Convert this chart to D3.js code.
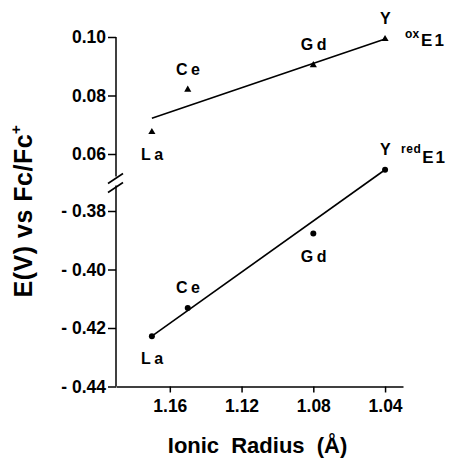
<!DOCTYPE html>
<html>
<head>
<meta charset="utf-8">
<script src="https://cdn.jsdelivr.net/npm/d3@7"></script>
<style>
  body { margin: 0; background: #fff; }
  text { font-family: "Liberation Sans", Arial, Helvetica, sans-serif; font-weight: bold; fill: #000; }
</style>
</head>
<body>
<div id="chart"></div>
<script>
// values
const elements = ["La", "Ce", "Gd", "Y"];
const radius = [1.17, 1.15, 1.08, 1.04];
const oxE1 = [0.0675, 0.082, 0.0904, 0.0993];
const redE1 = [-0.4228, -0.4132, -0.3877, -0.3659];
const oxFit = [[1.17, 0.0722], [1.04, 0.0993]];
const redFit = [[1.17, -0.4228], [1.04, -0.3659]];
const xTicks = [1.16, 1.12, 1.08, 1.04];
const yTicksUpper = [0.06, 0.08, 0.1];
const yTicksLower = [-0.44, -0.42, -0.4, -0.38];
const oxLabelSide = ["below", "above", "above", "above"];
const redLabelSide = ["below", "above", "below", "above"];

const width = 450, height = 459;
const left = 116, right = 403;

const svg = d3.select("#chart").append("svg")
  .attr("width", width)
  .attr("height", height);

const x = d3.scaleLinear().domain([1.19, 1.03]).range([left, right]);
const yUp = d3.scaleLinear().domain([0.06, 0.1]).range([154, 37]);
const yLow = d3.scaleLinear().domain([-0.44, -0.38]).range([386.5, 211]);

// x axis
const xAxis = svg.append("g")
  .attr("transform", `translate(0,${yLow(-0.44)})`)
  .call(d3.axisBottom(x).tickValues(xTicks).tickSizeInner(6).tickSizeOuter(0)
    .tickPadding(7).tickFormat(d3.format(".2f")));
xAxis.attr("font-family", null).attr("font-size", 17.5);
xAxis.selectAll("path, line").attr("stroke", "#000").attr("stroke-width", 1.5);

// y axes (upper and lower sections, broken)
const yAxisUp = svg.append("g")
  .attr("transform", `translate(${left},0)`)
  .call(d3.axisLeft(yUp).tickValues(yTicksUpper).tickSizeInner(8).tickSizeOuter(0)
    .tickPadding(2).tickFormat(d3.format(".2f")));
const yAxisLow = svg.append("g")
  .attr("transform", `translate(${left},0)`)
  .call(d3.axisLeft(yLow).tickValues(yTicksLower).tickSizeInner(8).tickSizeOuter(0)
    .tickPadding(2).tickFormat(d => "- " + Math.abs(d).toFixed(2)));
[yAxisUp, yAxisLow].forEach(g => {
  g.attr("font-family", null).attr("font-size", 17.5);
  g.select(".domain").remove();
  g.selectAll("line").attr("stroke", "#000").attr("stroke-width", 1.5);
});

const breakY = (yUp(0.06) + yLow(-0.38)) / 2;
svg.append("line")
  .attr("x1", left).attr("x2", left)
  .attr("y1", yUp(0.1)).attr("y2", breakY - 6)
  .attr("stroke", "#000").attr("stroke-width", 1.5);
svg.append("line")
  .attr("x1", left).attr("x2", left)
  .attr("y1", breakY + 3).attr("y2", yLow(-0.44))
  .attr("stroke", "#000").attr("stroke-width", 1.5);
[-4, 5].forEach(off => {
  svg.append("line")
    .attr("x1", left - 8).attr("y1", breakY + off + 5)
    .attr("x2", left + 7).attr("y2", breakY + off - 5)
    .attr("stroke", "#000").attr("stroke-width", 1.6);
});

// fit lines
const lineUp = d3.line().x(d => x(d[0])).y(d => yUp(d[1]));
const lineLow = d3.line().x(d => x(d[0])).y(d => yLow(d[1]));
svg.append("path").datum(oxFit).attr("d", lineUp)
  .attr("fill", "none").attr("stroke", "#000").attr("stroke-width", 1.6);
svg.append("path").datum(redFit).attr("d", lineLow)
  .attr("fill", "none").attr("stroke", "#000").attr("stroke-width", 1.6);

// markers
const oxPts = elements.map((e, i) => ({ e, r: radius[i], v: oxE1[i], side: oxLabelSide[i] }));
const redPts = elements.map((e, i) => ({ e, r: radius[i], v: redE1[i], side: redLabelSide[i] }));

svg.selectAll(".tri").data(oxPts).enter().append("path")
  .attr("class", "tri")
  .attr("d", d3.symbol(d3.symbolTriangle, 22))
  .attr("transform", d => `translate(${x(d.r)},${yUp(d.v)})`)
  .attr("fill", "#000");

svg.selectAll(".dot").data(redPts).enter().append("circle")
  .attr("class", "dot")
  .attr("r", 3)
  .attr("cx", d => x(d.r))
  .attr("cy", d => yLow(d.v))
  .attr("fill", "#000");

// point labels
function labels(pts, y) {
  svg.selectAll(null).data(pts).enter().append("text")
    .attr("x", d => x(d.r) + 2)
    .attr("y", d => y(d.v) + (d.side === "above" ? -15 : 28))
    .attr("text-anchor", "middle")
    .attr("font-size", 16)
    .attr("letter-spacing", 3.5)
    .text(d => d.e);
}
labels(oxPts, yUp);
labels(redPts, yLow);

// series names
const oxName = svg.append("text")
  .attr("x", x(1.04) + 20)
  .attr("y", yUp(oxE1[3]) + 7);
oxName.append("tspan").attr("font-size", 12).attr("dy", -8.5).text("ox");
oxName.append("tspan").attr("font-size", 17).attr("dy", 8.5).attr("dx", 2)
  .attr("letter-spacing", 2).text("E1");

const redName = svg.append("text")
  .attr("x", x(1.04) + 16)
  .attr("y", yLow(redE1[3]) - 7);
redName.append("tspan").attr("font-size", 12).attr("dy", -10).attr("letter-spacing", 0.5).text("red");
redName.append("tspan").attr("font-size", 17).attr("dy", 10).attr("dx", 1)
  .attr("letter-spacing", 2).text("E1");

// axis titles
svg.append("text")
  .attr("x", (left + right) / 2 - 2)
  .attr("y", 453)
  .attr("text-anchor", "middle")
  .attr("font-size", 22)
  .attr("word-spacing", 6)
  .text("Ionic Radius (Å)");

const yTitle = svg.append("text")
  .attr("transform", "translate(32,211) rotate(-90)")
  .attr("text-anchor", "middle")
  .attr("font-size", 25)
  .attr("letter-spacing", 0.5);
yTitle.append("tspan").text("E(V) vs Fc/Fc");
yTitle.append("tspan").attr("font-size", 15).attr("dy", -11).text("+");
</script>
</body>
</html>
